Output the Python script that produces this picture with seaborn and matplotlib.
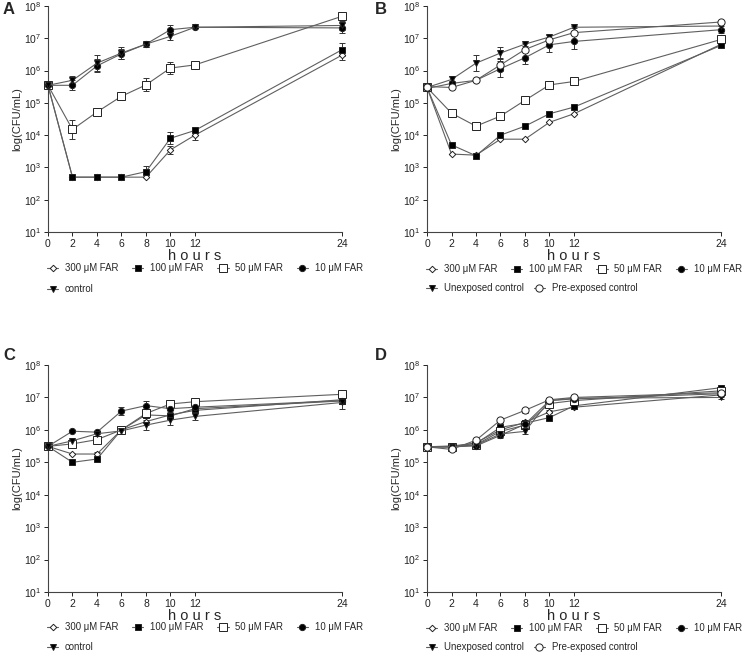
import numpy as np
import matplotlib
matplotlib.use("Agg")
import matplotlib.pyplot as plt
import seaborn as sns

hours = [0, 2, 4, 6, 8, 10, 12, 24]
x_ticks = [0, 2, 4, 6, 8, 10, 12, 24]

# panel A - values in CFU/mL, errors as log10 half-widths
A_300 = [3.5e5, 5e2, 5e2, 5e2, 5e2, 3.5e3, 1e4, 3e6]
A_100 = [3.5e5, 5e2, 5e2, 5e2, 7.4e2, 8e3, 1.4e4, 4.4e6]
A_50 = [3.5e5, 1.5e4, 5.2e4, 1.6e5, 3.6e5, 1.2e6, 1.5e6, 4.8e7]
A_10 = [3.5e5, 3.5e5, 1.4e6, 3.3e6, 6.6e6, 1.85e7, 2.2e7, 2.1e7]
A_ctrl = [3.5e5, 5e5, 1.7e6, 3.5e6, 6.6e6, 1.15e7, 2.2e7, 2.5e7]
A_300_err = [0, 0, 0, 0, 0, 0.12, 0.15, 0.15]
A_100_err = [0, 0, 0, 0, 0.18, 0.18, 0.05, 0.2]
A_50_err = [0, 0.29, 0.1, 0.05, 0.2, 0.18, 0.05, 0.05]
A_10_err = [0, 0.15, 0.2, 0.15, 0.08, 0.13, 0.03, 0.15]
A_ctrl_err = [0, 0.12, 0.25, 0.2, 0.08, 0.1, 0.03, 0.15]

# panel B
B_300 = [3e5, 2.6e3, 2.4e3, 7.5e3, 7.5e3, 2.5e4, 4.6e4, 6.5e6]
B_100 = [3e5, 5e3, 2.3e3, 1e4, 1.9e4, 4.6e4, 7.4e4, 6e6]
B_50 = [3e5, 4.8e4, 1.9e4, 3.9e4, 1.2e5, 3.6e5, 4.6e5, 9.2e6]
B_10 = [2.8e5, 4e5, 5e5, 1.15e6, 2.5e6, 6.3e6, 8e6, 1.85e7]
B_unexp = [3e5, 5.3e5, 1.7e6, 3.5e6, 6.6e6, 1.1e7, 2.2e7, 2.4e7]
B_pre = [3.2e5, 3e5, 5e5, 1.5e6, 4.5e6, 9e6, 1.5e7, 3.2e7]
B_300_err = [0, 0, 0, 0, 0, 0, 0, 0.03]
B_100_err = [0, 0, 0, 0, 0, 0, 0, 0.03]
B_50_err = [0, 0, 0, 0, 0, 0, 0, 0.05]
B_10_err = [0, 0.08, 0.03, 0.25, 0.2, 0.22, 0.22, 0.1]
B_unexp_err = [0, 0.1, 0.25, 0.2, 0.05, 0.05, 0.03, 0.08]
B_pre_err = [0, 0, 0, 0.2, 0, 0.05, 0.05, 0.03]

# panel C
C_300 = [3.1e5, 1.8e5, 1.8e5, 1e6, 1.8e6, 2.9e6, 4e6, 8.5e6]
C_100 = [3.1e5, 1e5, 1.26e5, 1e6, 2.9e6, 2.7e6, 4.5e6, 7.8e6]
C_50 = [3.1e5, 3.7e5, 5e5, 1e6, 3.2e6, 6.3e6, 7.4e6, 1.25e7]
C_10 = [3.1e5, 9.1e5, 8.5e5, 3.8e6, 5.6e6, 4.5e6, 5e6, 8e6]
C_ctrl = [3.1e5, 4.6e5, 7.6e5, 9.3e5, 1.4e6, 2e6, 2.6e6, 7e6]
C_300_err = [0, 0, 0.05, 0, 0.1, 0.1, 0.05, 0.05]
C_100_err = [0, 0, 0, 0, 0.05, 0.1, 0.05, 0.1]
C_50_err = [0, 0.05, 0.05, 0, 0.05, 0.05, 0.03, 0.05]
C_10_err = [0, 0.03, 0.05, 0.12, 0.15, 0.05, 0.05, 0.1]
C_ctrl_err = [0, 0.05, 0.08, 0.05, 0.15, 0.15, 0.12, 0.2]

# panel D
D_300 = [3e5, 3e5, 4e5, 1e6, 1.7e6, 3.6e6, 5e6, 1.2e7]
D_100 = [3e5, 3.2e5, 3.8e5, 1.2e6, 1.6e6, 2.4e6, 5.5e6, 2e7]
D_50 = [3e5, 3e5, 3.5e5, 9e5, 1.4e6, 6.5e6, 8e6, 1.6e7]
D_10 = [3e5, 3e5, 3.2e5, 6.8e5, 1.5e6, 8e6, 9e6, 1.3e7]
D_unexp = [3e5, 3e5, 3.4e5, 7.5e5, 9e5, 8e6, 9.5e6, 1e7]
D_pre = [3e5, 2.5e5, 4.8e5, 2e6, 4e6, 8.5e6, 1e7, 1.4e7]
D_err = [0, 0.03, 0.05, 0.08, 0.08, 0.05, 0.05, 0.05]

# marker style per series: (marker, size, face)
styles = {
    "300 μM FAR": ("D", 3.3, "white"),
    "100 μM FAR": ("s", 4.2, "black"),
    "50 μM FAR": ("s", 5.2, "white"),
    "10 μM FAR": ("o", 4.5, "black"),
    "control": ("v", 4.2, "black"),
    "Unexposed control": ("v", 4.2, "black"),
    "Pre-exposed control": ("o", 5.2, "white"),
}

# (letter, axes rect, letter px, legend row px, series)
panels = [
    ("A", [0.0643, 0.6458, 0.394, 0.345], (9, 9), (268, 289),
     [("300 μM FAR", A_300, A_300_err), ("100 μM FAR", A_100, A_100_err),
      ("50 μM FAR", A_50, A_50_err), ("10 μM FAR", A_10, A_10_err),
      ("control", A_ctrl, A_ctrl_err)]),
    ("B", [0.5724, 0.6458, 0.394, 0.345], (381, 9), (269, 288),
     [("300 μM FAR", B_300, B_300_err), ("100 μM FAR", B_100, B_100_err),
      ("50 μM FAR", B_50, B_50_err), ("10 μM FAR", B_10, B_10_err),
      ("Unexposed control", B_unexp, B_unexp_err),
      ("Pre-exposed control", B_pre, B_pre_err)]),
    ("C", [0.0643, 0.0962, 0.394, 0.3465], (9, 355), (627, 647),
     [("300 μM FAR", C_300, C_300_err), ("100 μM FAR", C_100, C_100_err),
      ("50 μM FAR", C_50, C_50_err), ("10 μM FAR", C_10, C_10_err),
      ("control", C_ctrl, C_ctrl_err)]),
    ("D", [0.5724, 0.0962, 0.394, 0.3465], (381, 356), (628, 647),
     [("300 μM FAR", D_300, D_err), ("100 μM FAR", D_100, D_err),
      ("50 μM FAR", D_50, D_err), ("10 μM FAR", D_10, D_err),
      ("Unexposed control", D_unexp, D_err),
      ("Pre-exposed control", D_pre, D_err)]),
]

sns.set_style("ticks")
plt.rcParams["font.family"] = ["Liberation Sans", "DejaVu Sans"]
plt.rcParams["mathtext.fontset"] = "custom"
plt.rcParams["mathtext.rm"] = "Liberation Sans"

W, H = 746, 655
fig = plt.figure(figsize=(W / 100, H / 100), dpi=100)

line_col = "#5f5f5f"
for letter, pos, lab_xy, rows_y, series in panels:
    ax = fig.add_axes(pos)
    for name, vals, err in series:
        m, ms, face = styles[name]
        v = np.array(vals)
        e = np.array(err)
        lo = v - v / 10 ** e
        hi = v * 10 ** e - v
        ax.errorbar(hours, v, yerr=[lo, hi], fmt="none", ecolor="#333333",
                    elinewidth=0.7, capsize=2, capthick=0.7, clip_on=False)
        sns.lineplot(x=hours, y=v, ax=ax, color=line_col, lw=0.8, marker=m,
                     markersize=ms, mfc=face, mec="#222222", mew=0.7,
                     label=name, clip_on=False, zorder=3)
    ax.set_yscale("log")
    ax.set_ylim(10, 1e8)
    ax.set_xlim(0, 24)
    ax.set_xticks(x_ticks)
    ax.set_xticklabels([str(t) for t in x_ticks])
    ax.set_yticks([10.0 ** k for k in range(1, 9)])
    ax.set_yticklabels([r"$10^{%d}$" % k for k in range(1, 9)])
    ax.yaxis.set_minor_locator(matplotlib.ticker.NullLocator())
    ax.tick_params(labelsize=7.5, length=3, width=0.7, pad=2, colors="#222222")
    for s in ["left", "bottom"]:
        ax.spines[s].set_linewidth(0.8)
        ax.spines[s].set_color("#444444")
    sns.despine(ax=ax)
    ax.set_xlabel("h o u r s", fontsize=10.5, labelpad=0)
    ax.set_ylabel("log(CFU/mL)", fontsize=8, labelpad=1)
    handles, labels = ax.get_legend_handles_labels()
    ax.get_legend().remove()
    # two legend rows: first four treatments, then controls
    x0 = pos[0] - 5 / W
    leg_kw = dict(loc="center left", frameon=False, fontsize=6.9,
                  handlelength=1.2, handletextpad=0.7, borderaxespad=0,
                  bbox_transform=fig.transFigure)
    fig.legend(handles[:4], labels[:4], ncol=4, columnspacing=1.4,
               bbox_to_anchor=(x0, 1 - rows_y[0] / H), **leg_kw)
    fig.legend(handles[4:], labels[4:], ncol=2, columnspacing=1.0,
               bbox_to_anchor=(x0, 1 - rows_y[1] / H), **leg_kw)
    fig.text(lab_xy[0] / W, 1 - lab_xy[1] / H, letter, fontsize=12,
             fontweight="bold", va="center", ha="center")

fig.savefig("out.png", dpi=100)
